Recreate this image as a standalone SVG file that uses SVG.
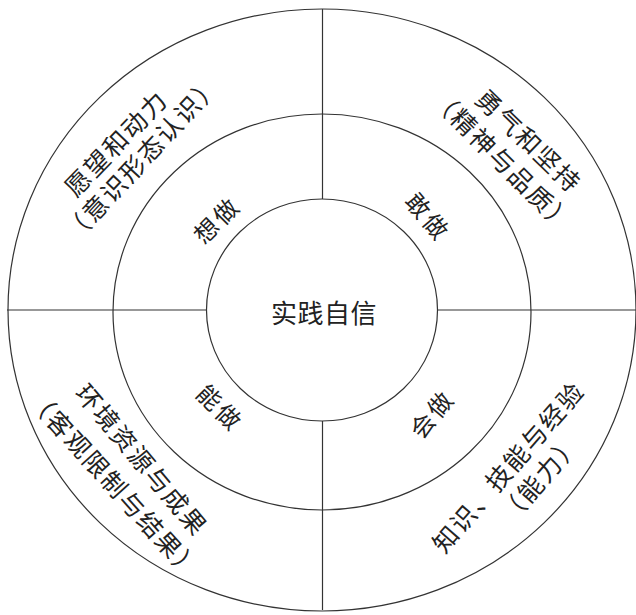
<svg xmlns="http://www.w3.org/2000/svg" width="636" height="615" viewBox="0 0 636 615">
<style>
.ring{fill:none;stroke:#333;stroke-width:1.2}
.ln{stroke:#333;stroke-width:1.2}
text{font-family:"Noto Sans CJK SC","Noto Sans CJK TC",sans-serif;fill:#222;text-anchor:middle;dominant-baseline:central}
.o{font-size:25px;letter-spacing:2px}
.m{font-size:24px;letter-spacing:3px}
.c{font-size:26px;letter-spacing:0.5px}
</style>
<rect width="636" height="615" fill="#fff"/>
<g id="rings">
<ellipse class="ring" cx="322" cy="310" rx="314" ry="301"/>
<ellipse class="ring" cx="322" cy="312" rx="209" ry="198"/>
<ellipse class="ring" cx="322" cy="310" rx="115.5" ry="111"/>
</g>
<g id="connectors">
<line class="ln" x1="322.5" y1="9" x2="322.5" y2="199"/>
<line class="ln" x1="322.5" y1="421" x2="322.5" y2="610"/>
<line class="ln" x1="7" y1="310" x2="206.5" y2="310"/>
<line class="ln" x1="437.5" y1="310" x2="636" y2="310"/>
</g>
<g id="center"><text class="c" x="324" y="311">实践自信</text></g>
<g id="xiangzuo"><text class="m" transform="translate(216,219) rotate(-45)">想做</text></g>
<g id="ganzuo"><text class="m" transform="translate(429,216) rotate(50)">敢做</text></g>
<g id="nengzuo"><text class="m" transform="translate(221,407) rotate(45)">能做</text></g>
<g id="huizuo"><text class="m" transform="translate(431,413) rotate(-50)">会做</text></g>
<g id="upper-left">
<text class="o" transform="translate(115,142) rotate(-46)">愿望和动力</text>
<text class="o" transform="translate(141,157) rotate(-47)">（意识形态认识）</text>
</g>
<g id="upper-right">
<text class="o" transform="translate(530,140) rotate(44)">勇气和坚持</text>
<text class="o" transform="translate(504,160) rotate(45)">（精神与品质）</text>
</g>
<g id="lower-left">
<text class="o" transform="translate(143,459) rotate(50)">环境资源与成果</text>
<text class="o" transform="translate(116,484) rotate(48)">（客观限制与结果）</text>
</g>
<g id="lower-right">
<text class="o" transform="translate(507,466) rotate(-49)">知识、技能与经验</text>
<text class="o" transform="translate(539,477) rotate(-49)">（能力）</text>
</g>
</svg>
